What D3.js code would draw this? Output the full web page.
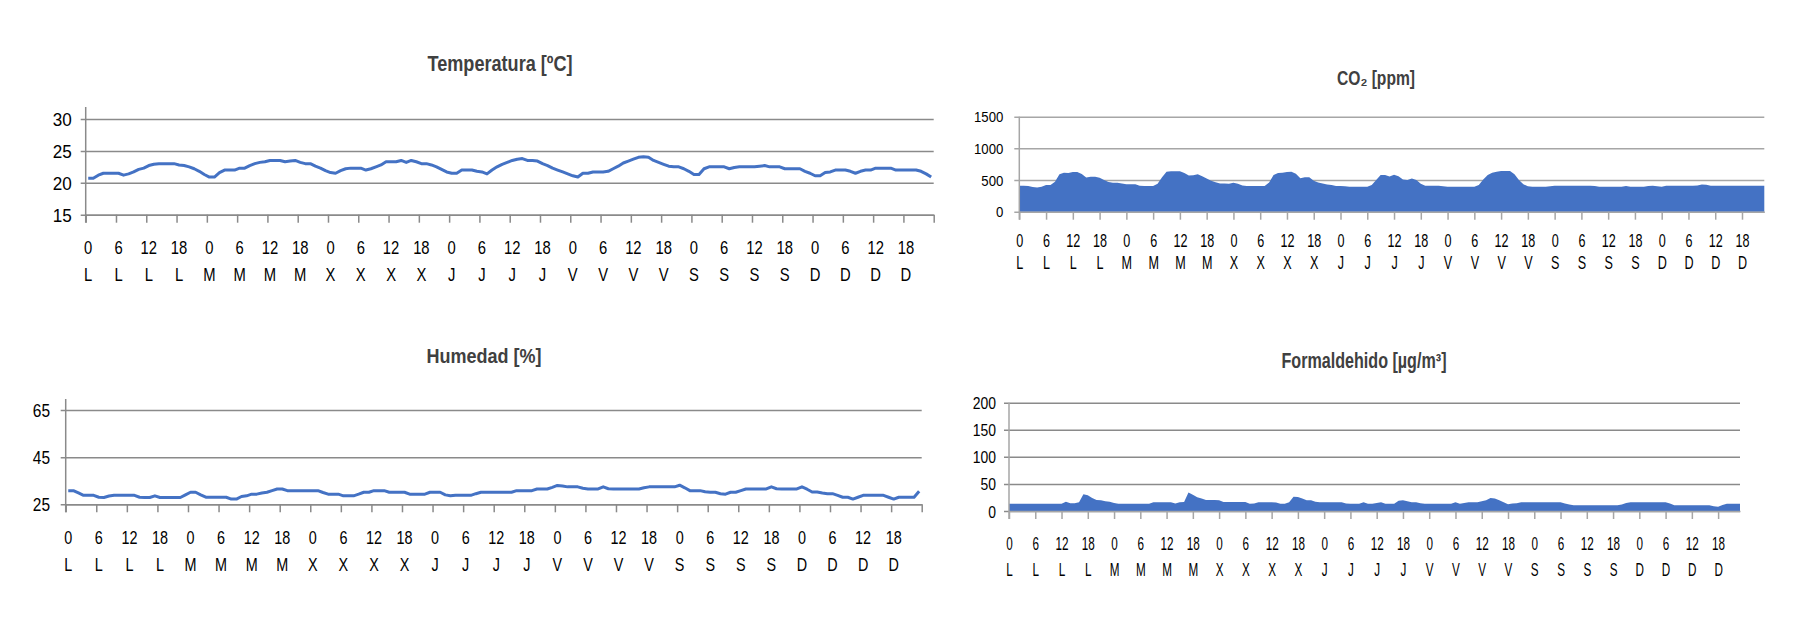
<!DOCTYPE html>
<html><head><meta charset="utf-8">
<script src="https://cdn.jsdelivr.net/npm/d3@7"></script>
<style>
body{margin:0;background:#fff;}
svg{display:block;font-family:"Liberation Sans",Arial,sans-serif;}
</style>
</head><body>
<svg id="c" width="1807" height="640"></svg>
<script>
// ---------- DATA ----------
const dayLabels = ["L","M","X","J","V","S","D"];
const hourLabels = ["0","6","12","18"];

const temperatura = [
 20.7,20.7,21.2,21.5,21.5,21.5,21.5,21.2,21.4,21.7,22.1,22.3,22.7,22.9,23.0,23.0,23.0,23.0,22.8,22.7,22.5,22.2,21.8,21.3,
 20.9,20.9,21.6,22.0,22.0,22.0,22.3,22.3,22.7,23.0,23.2,23.3,23.5,23.5,23.5,23.3,23.4,23.5,23.2,23.0,23.0,22.6,22.3,21.9,
 21.6,21.5,21.9,22.2,22.3,22.3,22.3,22.0,22.2,22.5,22.8,23.3,23.3,23.3,23.5,23.2,23.5,23.3,23.0,23.0,22.8,22.5,22.1,21.7,
 21.5,21.5,22.0,22.0,22.0,21.8,21.7,21.4,22.0,22.5,22.9,23.2,23.5,23.7,23.8,23.5,23.5,23.4,23.0,22.7,22.3,22.0,21.7,21.4,
 21.1,20.9,21.5,21.5,21.7,21.7,21.7,21.8,22.2,22.6,23.1,23.4,23.7,24.0,24.1,24.0,23.5,23.2,22.9,22.6,22.5,22.5,22.2,21.8,
 21.3,21.3,22.2,22.5,22.5,22.5,22.5,22.2,22.4,22.5,22.5,22.5,22.5,22.6,22.7,22.5,22.5,22.5,22.2,22.2,22.2,22.2,21.8,21.5,
 21.1,21.1,21.6,21.7,22.0,22.0,22.0,21.8,21.5,21.8,22.0,22.0,22.3,22.3,22.3,22.3,22.0,22.0,22.0,22.0,22.0,21.8,21.4,20.9
];

const humedad = [
 30.8,30.8,29.8,28.8,28.8,28.8,28.0,27.9,28.5,28.8,28.8,28.8,28.8,28.8,28.0,27.9,27.9,28.6,27.9,27.9,27.9,27.9,27.9,29.0,
 30.1,30.1,29.0,28.0,28.0,28.0,28.0,28.0,27.2,27.2,28.3,28.6,29.3,29.3,29.8,30.1,30.8,31.5,31.5,30.8,30.8,30.8,30.8,30.8,
 30.8,30.8,30.0,29.3,29.3,29.3,28.6,28.6,28.6,29.3,30.1,30.1,30.8,30.8,30.8,30.1,30.1,30.1,30.1,29.3,29.3,29.3,29.3,30.1,
 30.1,30.1,29.0,28.6,28.8,28.8,28.8,28.8,29.5,30.1,30.1,30.1,30.1,30.1,30.1,30.1,30.8,30.8,30.8,30.8,31.5,31.5,31.5,32.2,
 33.0,32.8,32.4,32.4,32.4,31.8,31.5,31.5,31.5,32.4,31.6,31.5,31.5,31.5,31.5,31.5,31.5,32.0,32.4,32.4,32.4,32.4,32.4,32.4,
 33.1,32.0,30.8,30.8,30.8,30.3,30.1,30.1,29.5,29.3,30.1,30.1,30.8,31.5,31.5,31.5,31.5,31.5,32.4,31.6,31.5,31.5,31.5,31.5,
 32.4,31.4,30.2,30.2,29.8,29.5,29.5,28.8,28.0,28.0,27.2,28.0,28.8,28.8,28.8,28.8,28.8,28.0,27.2,28.0,28.0,28.0,28.0,30.5
];

const co2 = [
 410,410,405,390,384,395,421,421,474,590,616,610,626,626,595,540,553,553,535,500,470,458,458,445,
 432,432,432,410,405,405,405,440,542,630,637,637,637,610,570,575,590,560,526,490,465,447,447,440,
 458,440,415,405,405,405,405,405,460,580,610,616,625,632,600,530,542,542,490,460,447,430,420,405,
 405,400,395,395,395,395,395,420,500,579,579,555,585,560,510,500,526,500,440,410,410,410,410,400,
 395,395,395,395,395,395,395,420,510,580,615,630,642,642,642,590,500,432,400,395,395,395,395,400,
 410,410,410,410,410,410,410,410,410,405,395,395,395,395,395,395,405,395,395,395,395,405,410,400,
 395,410,410,410,410,410,410,410,415,430,425,410,410,410,410,410,410,410,410,410,410,410,410,410
];

const formaldehido = [
 13.6,13.6,13.6,13.6,13.6,13.6,13.6,13.6,13.6,13.6,13.6,13.6,13.6,17,14.5,14.2,16,31,29,24,20.4,20,18,17,
 15,13.6,13.6,13.6,13.6,13.6,13.6,13.6,13.6,16,16,16,16,16,14,16,16.5,34,30,25.5,23,20.4,20.4,20.4,
 20,16.7,16.7,16.7,16.7,16.7,16.7,13.6,14,16,16,16,16,15.5,13.6,13.6,16,26.5,26,23,20,19.8,17,16,
 16,16,16,16,16,14,13.6,13.6,13.6,16,13.6,13.6,15,16,13.6,13.6,13.6,19,19.8,18,16,16,14.5,13.6,
 13.6,13.6,13.6,13.6,13.6,13.6,16,13.6,15,16,16,16,18,20,24,23,20,16,12.5,14,14.5,16,16,16,
 16,16,16,16,16,16,16,14,12,10.5,10.5,10.5,10.5,10.5,10.5,10.5,10.5,10.5,10.5,10.5,12,15,16,16,
 16,16,16,16,16,16,16,14,10.5,10.5,10.5,10.5,10.5,10.5,10.5,10.5,10.5,9,8,11,13.6,13.6,13.6,13.6
];

const tempTicks = [15,20,25,30];
const humTicks = [25,45,65];
const co2Ticks = [0,500,1000,1500];
const formTicks = [0,50,100,150,200];

// ---------- DRAWING ----------
const svg = d3.select("#c");
const BLUE = "#4472C4";
const N = 168;
const idx = d3.range(N);
const labelIdx = d3.range(0, N, 6);
const hourOf = i => hourLabels[(i % 24) / 6];
const dayOf = i => dayLabels[Math.floor(i / 24)];

function panel(c) {
  const g = svg.append("g");
  const w = c.x1 - c.x0;
  const y = d3.scaleLinear().domain(c.domain).range([c.yBot, c.yTop]);

  // gridlines + y labels
  const ya = g.append("g").attr("transform", `translate(${c.x0},0)`)
    .call(d3.axisLeft(y).tickValues(c.yTicks).tickSize(0).tickFormat(d3.format("d")));
  ya.attr("font-size", null).attr("font-family", null);
  ya.select(".domain").remove();
  ya.selectAll(".tick line").attr("x1", -5).attr("x2", w)
    .attr("stroke", c.grid).attr("stroke-width", 1.5);
  ya.selectAll(".tick text")
    .attr("x", -c.yGap / c.ySx).attr("dy", "0.36em")
    .attr("transform", `scale(${c.ySx},1)`)
    .style("font-size", c.yFs + "px").attr("fill", "#000");

  // data
  let xTickAxis, xLabelScale;
  if (c.type === "line") {
    const xb = d3.scaleBand().domain(idx).range([c.x0, c.x1]);
    const xl = d3.scaleLinear().domain([0, N]).range([c.x0, c.x1]);
    xTickAxis = d3.axisBottom(xl).tickValues(d3.range(0, N + 1, 6));
    xLabelScale = xb;
    g.append("path").datum(c.data)
      .attr("fill", "none").attr("stroke", BLUE).attr("stroke-width", 3)
      .attr("stroke-linejoin", "round")
      .attr("d", d3.line().x((d, i) => xb(i) + xb.bandwidth() / 2).y(d => y(d)));
  } else {
    const xp = d3.scalePoint().domain(idx).range([c.x0, c.x1]);
    xTickAxis = d3.axisBottom(xp).tickValues(labelIdx);
    xLabelScale = xp;
    g.append("path").datum(c.data)
      .attr("fill", BLUE).attr("stroke", "none")
      .attr("d", d3.area().x((d, i) => xp(i)).y0(y(c.domain[0])).y1(d => y(d)));
  }

  // x axis line + tick marks
  const xa = g.append("g").attr("transform", `translate(0,${c.yBot})`)
    .call(xTickAxis.tickSize(8).tickSizeOuter(0).tickFormat(() => ""));
  xa.select(".domain").attr("stroke", c.axis).attr("stroke-width", 1.5);
  xa.selectAll(".tick line").attr("stroke", c.axis).attr("stroke-width", 1.5);

  // y axis line
  g.append("line").attr("x1", c.x0).attr("x2", c.x0)
    .attr("y1", c.axisTop).attr("y2", c.yBot + 8)
    .attr("stroke", c.axis).attr("stroke-width", 1.5);

  // two rows of category labels
  [[hourOf, c.hourBase], [dayOf, c.dayBase]].forEach(([fmt, base]) => {
    const la = g.append("g").attr("transform", `translate(0,${c.yBot})`)
      .call(d3.axisBottom(xLabelScale).tickValues(labelIdx).tickSize(0).tickFormat(fmt));
    la.attr("font-size", null).attr("font-family", null);
    la.select(".domain").remove();
    la.selectAll(".tick text")
      .attr("y", base - c.yBot).attr("dy", null)
      .attr("transform", `scale(${c.xSx},1)`)
      .style("font-size", c.xFs + "px").attr("fill", "#000");
  });

  // title
  g.append("text")
    .attr("x", c.titleX).attr("y", c.titleY)
    .attr("text-anchor", "middle")
    .attr("font-weight", "bold")
    .style("font-size", c.titleFs + "px")
    .attr("fill", "#404040")
    .attr("textLength", c.titleW).attr("lengthAdjust", "spacingAndGlyphs")
    .text(c.title);
}

panel({
  type: "line", data: temperatura, domain: [15, 30], yTicks: tempTicks,
  x0: 85.7, x1: 933.7, yBot: 214.7, yTop: 119, axisTop: 107,
  grid: "#8a8a8a", axis: "#8a8a8a",
  yGap: 14, ySx: 0.9, yFs: 19,
  xSx: 0.8, xFs: 18.5, hourBase: 254, dayBase: 281,
  titleX: 500, titleY: 71, titleFs: 21.5, titleW: 145,
  title: "Temperatura [ºC]"
});

panel({
  type: "line", data: humedad, domain: [25, 65], yTicks: humTicks,
  x0: 65.7, x1: 921.7, yBot: 504.3, yTop: 410, axisTop: 399,
  grid: "#8a8a8a", axis: "#8a8a8a",
  yGap: 15.7, ySx: 0.86, yFs: 18,
  xSx: 0.8, xFs: 18, hourBase: 544, dayBase: 570.7,
  titleX: 484, titleY: 363, titleFs: 21, titleW: 115,
  title: "Humedad [%]"
});

panel({
  type: "area", data: co2, domain: [0, 1500], yTicks: co2Ticks,
  x0: 1019.3, x1: 1764.3, yBot: 211.7, yTop: 116.7, axisTop: 116.7,
  grid: "#a6a6a6", axis: "#a6a6a6",
  yGap: 16, ySx: 0.91, yFs: 14.5,
  xSx: 0.72, xFs: 17.5, hourBase: 246.7, dayBase: 269,
  titleX: 1376, titleY: 85, titleFs: 20, titleW: 78,
  title: "CO₂ [ppm]"
});

panel({
  type: "area", data: formaldehido, domain: [0, 200], yTicks: formTicks,
  x0: 1009, x1: 1740, yBot: 511, yTop: 402.7, axisTop: 402.7,
  grid: "#8a8a8a", axis: "#a6a6a6",
  yGap: 13, ySx: 0.83, yFs: 16.8,
  xSx: 0.65, xFs: 18, hourBase: 550, dayBase: 576,
  titleX: 1364, titleY: 368, titleFs: 21.5, titleW: 165,
  title: "Formaldehido [µg/m³]"
});
</script>
</body></html>
